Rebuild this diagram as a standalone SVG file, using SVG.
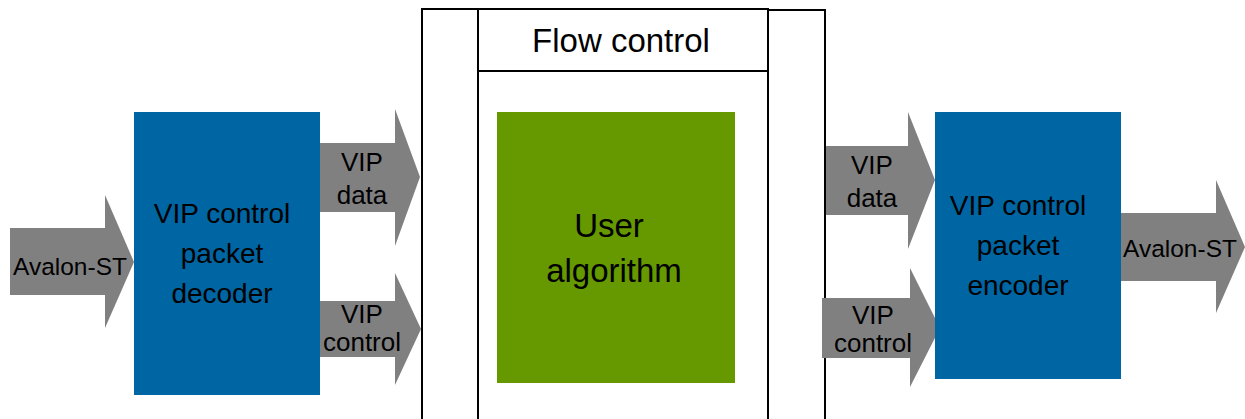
<svg xmlns="http://www.w3.org/2000/svg" width="1245" height="419" viewBox="0 0 1245 419">
<style>
.arrow{fill:#808080;}
.blue{fill:#0065a3;}
.green{fill:#669900;}
.frame{fill:none;stroke:#000;stroke-width:2;}
text{font-family:"Liberation Sans",Arial,sans-serif;fill:#000;text-anchor:middle;}
.big{font-size:28px;}
.mid{font-size:33px;}
.sm{font-size:26px;}
.av{font-size:24.5px;}
</style>
<rect width="1245" height="419" fill="#fff"/>
<g id="flow-frame">
<path class="frame" d="M422,425 V9 H478 M768,10 H825 V425"/>
<rect class="frame" x="478" y="9" width="290" height="62"/>
<path class="frame" d="M478,71 V425 M768,71 V425"/>
<text x="621" y="52" style="font-size:33px">Flow control</text>
</g>
<g id="connectors">
<polygon class="arrow" points="10,228 105,228 105,195 134,262 105,328 105,295 10,295"/>
<polygon class="arrow" points="317,143 395,143 395,109 420,177 395,246 395,212 317,212"/>
<polygon class="arrow" points="316,301 395,301 395,273 421,329 395,385 395,357 316,357"/>
<polygon class="arrow" points="826,146 908,146 908,112 935,180 908,249 908,215 826,215"/>
<polygon class="arrow" points="822,298 910,298 910,268 940,328 910,387 910,358 822,358"/>
<polygon class="arrow" points="1121,213 1216,213 1216,180 1245,247 1216,313 1216,281 1121,281"/>
<text class="av" x="70" y="275">Avalon-ST</text>
<text class="sm" x="362" y="171">VIP</text>
<text class="sm" x="362" y="204">data</text>
<text class="sm" x="362" y="323">VIP</text>
<text class="sm" x="362" y="351">control</text>
<text class="sm" x="872" y="174">VIP</text>
<text class="sm" x="872" y="207">data</text>
<text class="sm" x="873" y="324">VIP</text>
<text class="sm" x="873" y="352">control</text>
<text class="av" x="1180" y="257">Avalon-ST</text>
</g>
<g id="decoder">
<rect class="blue" x="134" y="112" width="186" height="283"/>
<text class="big" x="222" y="223">VIP control</text>
<text class="big" x="222" y="263">packet</text>
<text class="big" x="222" y="303">decoder</text>
</g>
<g id="user-algorithm">
<rect class="green" x="497" y="112" width="238" height="271"/>
<text class="mid" x="609" y="237">User</text>
<text class="mid" x="614" y="282">algorithm</text>
</g>
<g id="encoder">
<rect class="blue" x="935" y="112" width="186" height="267"/>
<text class="big" x="1018" y="215">VIP control</text>
<text class="big" x="1018" y="255">packet</text>
<text class="big" x="1018" y="295">encoder</text>
</g>
</svg>
